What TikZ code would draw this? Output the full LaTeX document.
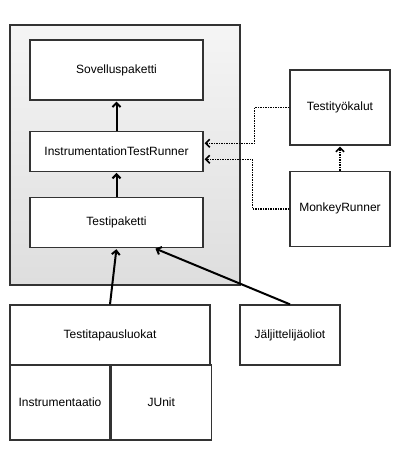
\documentclass[tikz,border=0pt]{standalone}
\usepackage{fontspec}
\setmainfont{Liberation Sans}
\usetikzlibrary{arrows.meta,positioning}

\begin{document}
\begin{tikzpicture}[
    x = 1pt, y = -1pt, % pixel grid, y downwards
    > = {Straight Barb[length=4pt,width=8pt]}, % arrow head style
    node distance = 30pt,
    line width = 1.3pt,
    font = \fontsize{12}{14}\selectfont
    ]

    \tikzset{box/.style={
    draw = black!80,
    fill = white,
    inner sep = 0pt,
    minimum width = 100pt,
    minimum height = 75pt
    }}
    \tikzset{wide/.style={box, minimum width = 173pt}}
    \tikzset{uses/.style={->, line width = 2pt, shorten > = 1pt}}
    \tikzset{dots/.style={->, line width = 1.6pt, dash pattern = on 1.5pt off 1pt, shorten > = 1pt}}

    \useasboundingbox (0,0) rectangle (410,460);

    % package frame
    \node[draw = black!80, top color = black!4, bottom color = black!13,
          minimum width = 230pt, minimum height = 260pt] (pkg) at (125,155) {};

    \node[wide, minimum height = 60pt] (sov) at (116.5,70) {Sovelluspaketti};
    \node[wide, minimum height = 40pt] (itr) [below=of sov] {InstrumentationTestRunner};
    \node[wide, minimum height = 50pt] (tp) [below=25pt of itr] {Testipaketti};

    \node[box, minimum width = 200pt, minimum height = 60pt] (ttl) at (110,335) {Testitapausluokat};
    \node[box] (instr) at (60,402.5) {Instrumentaatio};
    \node[box] (junit) [right=0pt of instr] {JUnit};
    \node[box, minimum height = 60pt] (jalj) at (290,335) {Jäljittelijäoliot};

    \node[box] (tyo) at (340,107.5) {Testityökalut};
    \node[box] (monkey) [below=25pt of tyo] {MonkeyRunner};

    \draw[uses] (itr) -- (sov);
    \draw[uses] (tp) -- (itr);
    \draw[uses] (ttl.north) -- (tp.south);
    \draw[uses] (jalj.north) -- (tp.-34.4);

    \draw[dots] (monkey) -- (tyo);
    \draw[dots] (tyo.west) -- ++(-35,0) |- ([yshift=8pt]itr.east);
    \draw[dots] (monkey.west) -- ++(-37,0) |- ([yshift=-8pt]itr.east);
\end{tikzpicture}
\end{document}
